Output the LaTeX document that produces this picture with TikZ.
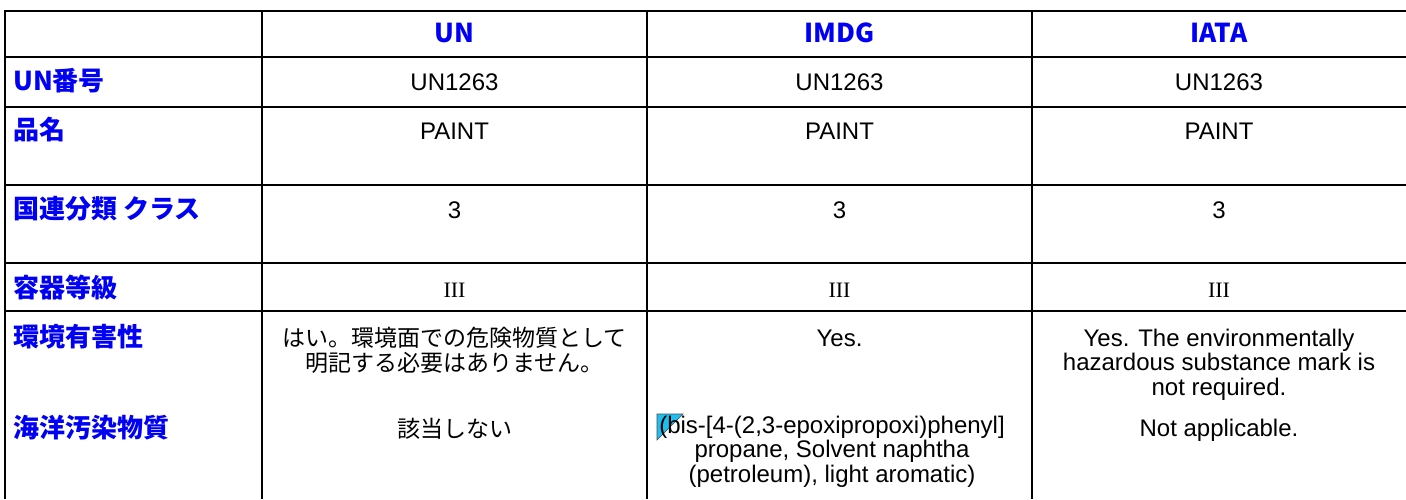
\documentclass[tikz,border=0pt]{standalone}
\usepackage{fontspec}
\setmainfont{Liberation Sans}
\newfontfamily\jp{Noto Sans CJK JP}
\newfontfamily\serif{Liberation Serif}
\definecolor{hdrblue}{RGB}{0,0,245}
\definecolor{markcyan}{RGB}{30,190,240}
\begin{document}
\begin{tikzpicture}[x=1pt,y=-1pt,
  grid/.style={line width=2pt,black},
  vgrid/.style={line width=1.6pt,black},
  hdr/.style={font=\jp\bfseries\fontsize{26}{28}\selectfont,text=hdrblue,inner sep=0pt,anchor=base},
  rowlab/.style={font=\jp\bfseries\fontsize{26}{28}\selectfont,text=hdrblue,inner sep=0pt,anchor=base west},
  val/.style={font=\fontsize{24}{24.5}\selectfont,inner sep=0pt,anchor=base,align=center},
  jval/.style={font=\jp\fontsize{23}{25}\selectfont,inner sep=0pt,anchor=base,align=center},
  rom/.style={font=\serif\fontsize{22}{24}\selectfont,inner sep=0pt,anchor=base}]
\useasboundingbox (0,0) rectangle (1406,499);
\fill[white] (0,0) rectangle (1406,499);
% grid
\foreach \y in {11,57,107,185,263,311} \draw[grid] (5,\y) -- (1406,\y);
\draw[grid] (5,10) -- (5,499);
\foreach \x in {262,647,1032} \draw[vgrid] (\x,11) -- (\x,499);
% header
\node[hdr] (hun) at (454.5,42) {UN};
\node[hdr] (himdg) at (839.5,42) {IMDG};
\node[hdr] (hiata) at (1219,42) {IATA};
% row labels
\node[rowlab] (l1) at (13,90) {UN番号};
\node[rowlab] (l2) at (13,139) {品名};
\node[rowlab] (l3) at (13,218) {国連分類 クラス};
\node[rowlab] (l4) at (13,297) {容器等級};
\node[rowlab] (l5) at (13,346) {環境有害性};
\node[rowlab] (l6) at (13,437) {海洋汚染物質};
% values
\node[val] (a1) at (454.5,90) {UN1263};
\node[val] (b1) at (839.5,90) {UN1263};
\node[val] (c1) at (1219,90) {UN1263};
\node[val] (a2) at (454.5,139) {PAINT};
\node[val] (b2) at (839.5,139) {PAINT};
\node[val] (c2) at (1219,139) {PAINT};
\node[val] (a3) at (454.5,218) {3};
\node[val] (b3) at (839.5,218) {3};
\node[val] (c3) at (1219,218) {3};
\node[rom] (a4) at (454.5,297) {III};
\node[rom] (b4) at (839.5,297) {III};
\node[rom] (c4) at (1219,297) {III};
% multi-line nodes: base anchor is the baseline of the last line
\node[jval] (a5) at (454.5,371) {はい。環境面での危険物質として\\明記する必要はありません。};
\node[val] (b5) at (839.5,346) {Yes.};
\node[val] (c5) at (1219,395) {Yes. The environmentally\\hazardous substance mark is\\not required.};
\node[jval] (a6) at (454.5,437) {該当しない};
\filldraw[fill=markcyan,draw=black!70,line width=0.6pt] (657,414) -- (683,414) -- (657,440) -- cycle;
\node[val] (b6) at (832,482) {(bis-[4-(2,3-epoxipropoxi)phenyl]\\propane, Solvent naphtha\\(petroleum), light aromatic)};
\node[val] (c6) at (1219,436) {Not applicable.};
\end{tikzpicture}
\end{document}
